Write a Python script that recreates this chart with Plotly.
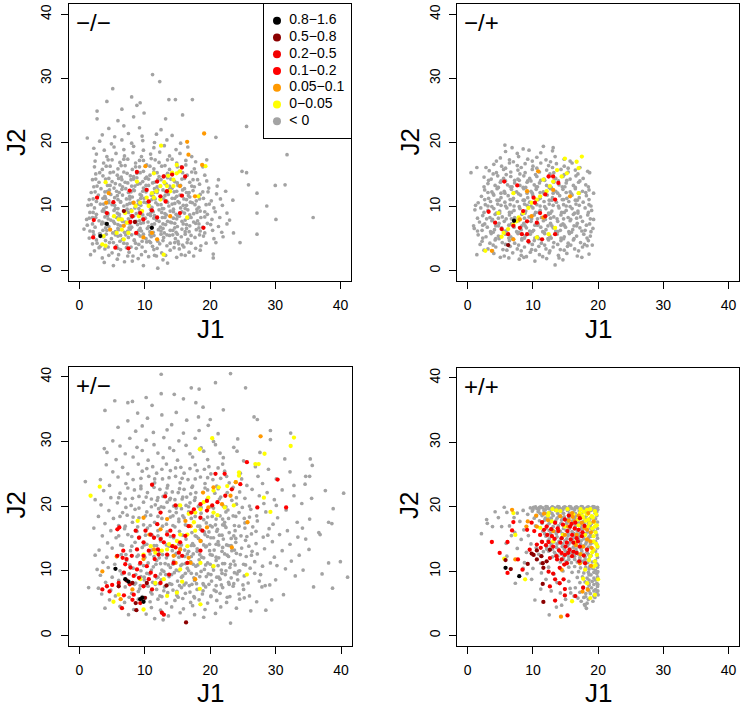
import plotly.graph_objects as go

# ---------------- categories / colours ----------------
CATS = ["< 0", "0\u22120.05", "0.05\u22120.1", "0.1\u22120.2", "0.2\u22120.5", "0.5\u22120.8", "0.8\u22121.6"]
COLORS = ["#A3A3A3", "#FFFF00", "#FF9900", "#FF0000", "#F20000", "#8B0000", "#000000"]
PANEL_LABELS = ["\u2212/\u2212", "\u2212/+", "+/\u2212", "+/+"]
TICKS = [0, 10, 20, 30, 40]

# ---------------- panel "-/-" (J1, J2) ----------------
MM_GRAY = [
 (3.8,1.3),(5.2,0.8),(6.9,1.4),(9.8,0.8),(12.0,0.4),(13.5,1.2),(8.1,1.5),
 (1.7,2.5),(3.5,2.0),(5.8,1.8),(7.4,2.3),(9.0,1.9),(10.6,2.2),(12.8,1.7),(14.9,2.1),(16.2,2.4),(20.5,2.0),(11.5,2.4),
 (2.3,3.1),(3.9,3.4),(5.0,2.8),(6.3,3.3),(7.6,2.9),(8.7,3.5),(10.1,3.0),(11.4,3.3),(12.6,2.8),(13.9,3.2),(15.3,3.4),(16.8,2.9),(18.5,3.2),(20.5,2.6),
 (2.0,4.2),(3.2,3.8),(4.6,4.4),(5.7,3.9),(6.8,4.3),(7.9,3.7),(9.1,4.1),(10.3,4.5),(11.2,3.8),(12.3,4.2),(13.4,3.9),(14.6,4.4),(15.8,4.0),(17.1,4.3),(18.6,3.9),(20.9,4.4),(24.6,4.4),(9.6,4.6),
 (1.5,5.1),(2.6,4.8),(3.7,5.3),(4.9,5.0),(5.9,5.4),(6.6,4.9),(7.5,5.2),(8.4,4.8),(9.3,5.4),(10.2,5.0),(11.0,5.3),(11.9,4.9),(12.9,5.2),(13.8,5.5),(14.7,5.0),(15.6,5.3),(16.6,4.9),(17.7,5.2),(19.0,5.4),(20.6,5.0),(22.0,5.3),
 (0.7,6.5),(2.1,6.1),(3.1,5.8),(4.2,6.3),(5.1,5.9),(6.0,6.4),(6.9,6.0),(7.8,6.5),(8.6,5.8),(9.5,6.2),(10.4,6.6),(11.3,6.0),(12.1,6.4),(13.0,5.9),(13.9,6.3),(14.8,6.0),(15.7,6.5),(16.8,6.1),(17.9,6.4),(19.2,5.9),(20.4,6.3),(21.8,6.0),(23.6,5.9),(27.2,5.7),
 (1.2,7.1),(2.4,6.8),(3.4,7.3),(4.5,6.9),(5.4,7.4),(6.3,7.0),(7.2,7.5),(8.0,6.8),(8.9,7.2),(9.8,7.5),(10.6,6.9),(11.5,7.3),(12.4,6.8),(13.2,7.2),(14.1,7.5),(15.0,6.9),(15.9,7.3),(16.9,7.0),(17.8,7.4),(18.9,6.8),(20.1,7.2),(21.3,6.9),(22.6,7.3),
 (1.1,8.0),(2.0,8.3),(3.0,7.8),(3.9,8.4),(4.8,7.9),(5.7,8.3),(6.6,7.7),(7.5,8.1),(8.3,8.5),(9.2,7.8),(10.1,8.2),(10.9,8.6),(11.8,7.9),(12.7,8.3),(13.5,7.7),(14.4,8.2),(15.3,8.5),(16.2,7.9),(17.1,8.3),(18.1,7.8),(19.2,8.4),(20.3,8.0),(21.5,8.3),(23.0,7.9),
 (1.6,9.1),(2.6,8.8),(3.5,9.3),(4.4,8.9),(5.3,9.4),(6.1,8.8),(7.0,9.2),(7.9,9.5),(8.7,8.9),(9.6,9.3),(10.5,8.8),(11.3,9.2),(12.2,9.5),(13.1,8.9),(13.9,9.3),(14.8,8.8),(15.7,9.2),(16.6,9.5),(17.5,8.9),(18.5,9.3),(19.6,8.8),(20.8,9.2),(22.6,9.0),(27.2,9.0),(30.1,8.0),(35.8,8.3),
 (1.3,10.2),(2.3,9.8),(3.2,10.4),(4.1,9.9),(5.0,10.3),(5.9,9.7),(6.8,10.1),(7.7,10.5),(8.5,9.8),(9.4,10.2),(10.3,10.6),(11.1,9.9),(12.0,10.3),(12.9,9.7),(13.7,10.1),(14.6,10.5),(15.5,9.8),(16.4,10.2),(17.3,10.6),(18.3,9.9),(19.4,10.3),(20.6,9.8),(21.9,10.2),(28.7,10.1),
 (1.5,11.1),(2.6,10.8),(3.6,11.3),(4.5,10.9),(5.4,11.4),(6.3,10.8),(7.2,11.2),(8.1,11.5),(9.0,10.9),(9.9,11.3),(10.7,10.8),(11.6,11.2),(12.5,11.5),(13.3,10.9),(14.2,11.3),(15.1,10.8),(16.0,11.2),(16.9,11.5),(17.9,10.9),(19.0,11.3),(20.2,10.9),(21.6,11.2),(23.5,11.0),
 (1.8,12.2),(2.9,11.8),(3.9,12.3),(4.8,11.9),(5.7,12.4),(6.6,11.8),(7.5,12.2),(8.4,12.5),(9.3,11.9),(10.2,12.3),(11.0,11.8),(11.9,12.2),(12.8,12.6),(13.6,11.9),(14.5,12.3),(15.4,11.8),(16.4,12.2),(17.4,12.5),(18.5,11.9),(19.7,12.3),(21.0,12.0),(22.4,12.4),(27.2,12.1),
 (2.2,13.1),(3.3,12.8),(4.3,13.3),(5.3,12.9),(6.2,13.4),(7.1,12.8),(8.0,13.2),(8.9,13.5),(9.8,12.9),(10.6,13.3),(11.5,12.8),(12.4,13.2),(13.3,13.5),(14.2,12.9),(15.1,13.3),(16.1,12.8),(17.2,13.2),(18.4,13.5),(19.8,12.9),(21.1,13.2),(25.9,13.4),(30.0,13.3),(31.5,13.4),
 (2.0,14.2),(3.0,13.8),(4.0,14.3),(5.0,13.9),(6.0,14.4),(7.0,13.8),(7.9,14.2),(8.8,14.5),(9.7,13.9),(10.6,14.3),(11.5,13.8),(12.5,14.2),(13.5,14.5),(14.6,13.9),(15.7,14.3),(16.9,13.8),(18.1,14.2),(19.5,14.0),(21.3,14.2),
 (2.5,15.1),(3.6,14.8),(4.7,15.3),(5.8,14.9),(6.8,15.4),(7.8,14.8),(8.8,15.2),(9.8,15.5),(10.8,14.9),(11.9,15.3),(13.0,14.8),(14.1,15.2),(15.3,15.5),(16.5,14.9),(17.8,15.3),(19.2,14.9),(24.9,15.5),(25.6,15.3),
 (2.3,16.2),(3.5,15.8),(4.7,16.3),(5.9,15.9),(7.0,16.4),(8.1,15.8),(9.2,16.2),(10.3,16.5),(11.4,15.9),(12.6,16.3),(13.8,15.8),(15.0,16.2),(16.3,16.5),(17.6,15.9),(18.9,16.2),
 (2.4,17.1),(3.7,16.8),(5.0,17.3),(6.2,16.9),(7.4,17.4),(8.6,16.8),(9.8,17.2),(11.0,17.5),(12.2,16.9),(13.5,17.3),(14.9,16.8),(16.3,17.2),(17.8,17.0),(19.5,17.3),
 (2.6,18.2),(4.2,17.8),(5.6,18.3),(6.9,17.9),(8.2,18.4),(9.5,17.8),(10.9,18.2),(12.3,18.5),(13.8,17.9),(15.4,18.3),(17.2,17.8),(31.8,18.1),
 (2.2,19.1),(3.8,18.8),(5.3,19.3),(6.8,18.9),(8.3,19.4),(9.8,18.8),(11.4,19.2),(13.0,19.5),(14.8,18.9),(16.6,19.3),
 (1.2,20.7),(3.1,20.2),(4.9,19.8),(6.5,20.4),(8.0,19.9),(9.7,20.3),(11.5,20.0),(13.4,20.4),(15.5,19.9),(20.9,20.8),
 (3.5,21.2),(5.4,20.9),(7.5,21.4),(9.6,21.0),(11.8,21.3),(14.2,21.1),(25.6,22.5),
 (4.5,22.2),(6.8,22.6),(9.2,22.3),(12.5,22.0),(5.9,23.4),(8.3,24.0),(13.2,23.7),(2.7,23.7),(2.7,24.9),(6.5,25.2),(9.9,24.6),(15.8,24.3),
 (5.1,28.4),(8.0,27.1),(4.2,26.4),(13.7,26.7),(14.7,26.7),(17.3,26.7),(9.3,26.2),(11.2,30.6),(12.3,29.5),(8.8,25.8),
 (4.0,4.7),(6.2,4.6),(8.4,4.7),(10.7,4.6),(12.8,4.7),(15.1,4.6),
 (3.2,5.7),(5.5,5.6),(7.1,5.6),(9.0,5.7),(10.8,5.6),(12.5,5.7),(14.3,5.6),(16.2,5.7),
 (4.0,6.7),(5.9,6.6),(7.6,6.7),(9.3,6.6),(11.0,6.7),(12.8,6.6),(14.6,6.7),(16.4,6.6),(18.3,6.7),
 (3.5,7.6),(5.2,7.7),(7.0,7.6),(8.7,7.7),(10.5,7.6),(12.2,7.7),(13.9,7.6),(15.7,7.7),(17.5,7.6),
 (4.3,8.6),(6.1,8.7),(7.9,8.6),(9.7,8.7),(11.5,8.6),(13.3,8.7),(15.0,8.6),(16.9,8.7),
 (3.7,9.6),(5.5,9.7),(7.3,9.6),(9.1,9.7),(10.9,9.6),(12.7,9.7),(14.4,9.6),(16.2,9.7),(18.0,9.6),
 (4.5,10.6),(6.3,10.7),(8.1,10.6),(9.9,10.7),(11.7,10.6),(13.5,10.7),(15.3,10.6),(17.0,10.7),
 (3.9,11.6),(5.8,11.7),(7.7,11.6),(9.5,11.7),(11.3,11.6),(13.1,11.7),(14.9,11.6),(16.7,11.7),
 (4.6,12.6),(6.5,12.7),(8.3,12.6),(10.1,12.7),(12.0,12.6),(13.8,12.7),(15.8,12.6),
 (5.5,13.6),(7.4,13.7),(9.3,13.6),(11.2,13.7),(13.1,13.6),(15.0,13.7),
 (6.4,14.6),(8.3,14.7),(10.3,14.6),(12.2,14.7),
 (4.5,2.4),(6.0,2.5),(8.2,2.3),(9.5,2.5),(11.8,2.3),(13.2,2.4),(15.6,2.5),(17.5,2.3),
 (3.0,3.6),(4.4,3.7),(5.9,3.5),(7.2,3.6),(9.6,3.7),(11.9,3.5),(14.5,3.6),(16.0,3.7),(17.8,3.5),
 (2.7,4.3),(5.2,4.4),(7.3,4.2),(8.6,4.3),(10.9,4.4),(12.0,4.6),(13.9,4.3),(15.2,4.2),(16.5,4.4),(19.4,4.3),
 (2.2,5.6),(4.1,5.7),(6.3,5.5),(8.0,5.6),(9.8,5.7),(11.4,5.5),(13.4,5.6),(15.0,5.7),(17.1,5.5),(18.4,5.6),
 (1.6,6.2),(3.6,6.3),(5.5,6.1),(7.4,6.2),(9.1,6.3),(10.8,6.1),(12.5,6.2),(14.3,6.3),(16.2,6.1),(18.5,6.2),
 (2.0,7.3),(3.9,7.4),(5.9,7.2),(7.7,7.3),(9.4,7.4),(11.1,7.2),(12.8,7.3),(14.6,7.4),(16.4,7.2),(18.3,7.3),(19.6,7.4),
 (1.5,8.2),(2.5,8.3),(4.4,8.1),(6.2,8.2),(8.0,8.3),(9.7,8.1),(11.4,8.2),(13.1,8.3),(14.9,8.1),(16.6,8.2),(18.6,8.3),
 (2.1,9.1),(3.9,9.2),(5.8,9.0),(7.5,9.1),(9.2,9.2),(10.9,9.0),(12.6,9.1),(14.4,9.2),(16.1,9.0),(18.0,9.1),(19.2,9.2),
 (1.8,10.3),(3.7,10.4),(5.4,10.2),(7.3,10.3),(9.0,10.4),(10.7,10.2),(12.5,10.3),(14.2,10.4),(15.9,10.2),(17.7,10.3),(19.9,10.4),
 (2.1,11.2),(4.0,11.3),(5.9,11.1),(7.7,11.2),(9.4,11.3),(11.1,11.1),(12.9,11.2),(14.6,11.3),(16.4,11.1),(18.4,11.2),
 (2.4,12.3),(4.3,12.4),(6.1,12.2),(7.9,12.3),(9.7,12.4),(11.4,12.2),(13.2,12.3),(14.9,12.4),(16.8,12.2),(18.9,12.3),
 (2.7,13.2),(4.7,13.3),(6.6,13.1),(8.5,13.2),(10.2,13.3),(11.9,13.1),(13.8,13.2),(15.5,13.3),(17.6,13.1),
 (2.5,14.3),(4.5,14.4),(6.5,14.2),(8.3,14.3),(10.1,14.4),(12.0,14.2),(14.0,14.3),(16.1,14.4),(17.4,14.2),
 (3.1,15.3),(5.2,15.4),(7.3,15.2),(9.3,15.3),(11.4,15.4),(13.5,15.2),(15.8,15.3),(17.2,15.4),
 (4.1,16.3),(6.4,16.4),(8.6,16.2),(10.8,16.3),(13.1,16.4),(15.6,16.2),
 (4.4,17.3),(6.8,17.4),(9.2,17.2),(11.6,17.3),(14.2,17.4),
]
MM_YEL = [
 (12.5,19.5),(19.3,16.3),(18.2,11.6),(16.5,8.3),(12.9,2.5),(4.0,13.8),(3.7,5.4),(3.5,4.1),(4.0,3.9),
 (5.3,8.5),(6.0,8.0),(6.5,6.4),(7.3,7.5),(8.0,9.3),(8.6,10.1),(9.3,10.6),(10.3,11.4),(11.1,12.1),(11.8,12.4),
 (12.4,13.2),(13.0,13.8),(13.6,14.8),(14.2,15.3),(14.9,15.2),(14.4,14.2),(13.4,13.2),(11.4,11.4),(9.6,9.3),
 (7.5,5.9),(6.8,4.9),(5.7,5.9),(8.8,13.9),(11.4,15.2),(14.9,16.5),(6.5,8.0),(7.0,9.0),(9.1,8.5),(10.6,10.1),
 (12.4,11.1),(13.9,12.4),(14.4,13.2),(15.4,15.5),
]
MM_ORA = [
 (19.1,21.4),(16.5,20.1),(16.7,18.1),(18.8,16.5),(10.1,16.3),(4.5,12.1),(4.1,10.6),(4.7,6.4),(9.8,5.2),
 (11.9,4.9),(8.3,10.6),(15.4,13.2),(6.8,7.0),(13.9,8.5),(11.1,5.9),(17.7,11.6),
]
MM_R1 = [
 (7.7,12.5),(10.6,10.8),(12.4,11.6),(13.2,10.8),(9.3,9.0),(9.8,8.0),(7.8,7.6),(8.7,5.9),
 (5.5,3.6),(7.5,3.5),(2.2,7.9),(2.1,5.2),(2.7,11.4),(15.4,9.0),
]
MM_R2 = [
 (8.8,15.4),(12.9,14.7),(15.7,16.1),(16.2,14.7),(15.7,11.7),(19.0,6.7),(4.2,9.0),(11.9,8.3),
 (11.1,9.4),(8.1,8.5),(5.2,10.7),(13.4,12.4),(11.9,13.9),(14.2,15.0),(10.3,12.6),
]
MM_DR = [(6.8,9.3),(8.5,7.6)]
MM_BK = [(3.2,5.4),(4.2,7.3),(11.1,6.7)]

# ---------------- panel "-/+" ----------------
MP_GRAY = [
 (7.9,1.8),(10.3,1.5),(12.1,1.9),(13.4,0.9),(9.0,2.2),(14.6,1.7),
 (1.4,2.5),(4.0,2.7),(5.6,2.3),(6.9,2.8),(8.2,2.4),(9.6,2.9),(11.0,2.5),(12.5,2.8),(13.9,2.4),(15.2,2.7),(16.8,2.3),(18.6,2.6),
 (3.1,3.4),(4.3,3.7),(5.4,3.3),(6.5,3.8),(7.6,3.4),(8.7,3.7),(9.8,3.3),(10.9,3.8),(12.0,3.4),(13.1,3.7),(14.2,3.3),(15.3,3.8),(16.4,3.4),(17.6,3.7),(18.3,3.9),
 (2.2,4.6),(3.4,4.3),(4.2,4.8),(5.3,4.4),(6.4,4.7),(7.2,4.3),(8.3,4.8),(9.4,4.4),(10.2,4.7),(11.3,4.3),(12.4,4.8),(13.2,4.4),(14.3,4.7),(15.4,4.3),(16.2,4.8),(17.3,4.4),(18.5,4.7),
 (1.6,5.6),(2.8,5.3),(3.6,5.8),(4.7,5.4),(5.8,5.7),(6.6,5.3),(7.7,5.8),(8.8,5.4),(9.6,5.7),(10.7,5.3),(11.8,5.8),(12.6,5.4),(13.7,5.7),(14.8,5.3),(15.6,5.8),(16.7,5.4),(17.8,5.7),(18.8,5.4),
 (1.0,6.6),(2.2,6.3),(3.0,6.8),(4.1,6.4),(5.2,6.7),(6.0,6.3),(7.1,6.8),(8.2,6.4),(9.0,6.7),(10.1,6.3),(11.2,6.8),(12.0,6.4),(13.1,6.7),(14.2,6.3),(15.0,6.8),(16.1,6.4),(17.2,6.7),(18.0,6.3),(19.2,6.6),
 (0.9,7.0),(1.8,7.6),(2.6,7.3),(3.7,7.8),(4.8,7.4),(5.6,7.7),(6.7,7.3),(7.8,7.8),(8.6,7.4),(9.7,7.7),(10.8,7.3),(11.6,7.8),(12.7,7.4),(13.8,7.7),(14.6,7.3),(15.7,7.8),(16.8,7.4),(17.6,7.7),(18.7,7.3),
 (2.3,8.6),(3.4,8.3),(4.2,8.8),(5.3,8.4),(6.4,8.7),(7.2,8.3),(8.3,8.8),(9.4,8.4),(10.2,8.7),(11.3,8.3),(12.4,8.8),(13.2,8.4),(14.3,8.7),(15.4,8.3),(16.2,8.8),(17.3,8.4),(18.4,8.7),(19.3,8.0),
 (1.1,9.5),(2.0,9.8),(3.1,9.4),(4.0,9.7),(4.9,9.3),(6.0,9.8),(7.1,9.4),(8.0,9.7),(8.9,9.3),(10.0,9.8),(11.1,9.4),(12.0,9.7),(12.9,9.3),(14.0,9.8),(15.1,9.4),(16.0,9.7),(16.9,9.3),(18.0,9.8),(19.0,9.4),
 (1.6,10.6),(2.7,10.3),(3.5,10.8),(4.6,10.4),(5.7,10.7),(6.5,10.3),(7.6,10.8),(8.7,10.4),(9.5,10.7),(10.6,10.3),(11.7,10.8),(12.5,10.4),(13.6,10.7),(14.7,10.3),(15.5,10.8),(16.6,10.4),(17.7,10.7),(18.6,10.3),
 (2.1,11.6),(3.2,11.3),(4.0,11.8),(5.1,11.4),(6.2,11.7),(7.0,11.3),(8.1,11.8),(9.2,11.4),(10.0,11.7),(11.1,11.3),(12.2,11.8),(13.0,11.4),(14.1,11.7),(15.2,11.3),(16.0,11.8),(17.1,11.4),(18.2,11.7),(19.3,12.1),
 (2.6,12.6),(3.7,12.3),(4.5,12.8),(5.6,12.4),(6.7,12.7),(7.5,12.3),(8.6,12.8),(9.7,12.4),(10.5,12.7),(11.6,12.3),(12.7,12.8),(13.5,12.4),(14.6,12.7),(15.7,12.3),(16.5,12.8),(17.6,12.4),(18.6,12.6),
 (3.1,13.6),(4.2,13.3),(5.0,13.8),(6.1,13.4),(7.2,13.7),(8.0,13.3),(9.1,13.8),(10.2,13.4),(11.0,13.7),(12.1,13.3),(13.2,13.8),(14.0,13.4),(15.1,13.7),(16.2,13.3),(17.0,13.8),(18.1,13.4),
 (2.5,14.6),(3.6,14.3),(4.6,14.8),(5.5,14.4),(6.6,14.7),(7.7,14.3),(8.6,14.8),(9.5,14.4),(10.6,14.7),(11.7,14.3),(12.6,14.8),(13.5,14.4),(14.6,14.7),(15.7,14.3),(16.6,14.8),(17.7,14.4),(18.7,15.3),
 (0.5,15.3),(3.3,15.6),(4.4,15.3),(5.5,15.8),(6.6,15.4),(7.7,15.7),(8.8,15.3),(9.9,15.8),(11.0,15.4),(12.1,15.7),(13.2,15.3),(14.3,15.8),(15.4,15.4),(16.5,15.7),(18.4,15.5),
 (1.4,16.1),(4.0,16.6),(5.2,16.3),(6.4,16.8),(7.6,16.4),(8.8,16.7),(10.0,16.3),(11.2,16.8),(12.4,16.4),(13.6,16.7),(14.8,16.3),(16.0,16.8),
 (5.0,17.6),(6.4,17.3),(7.8,17.8),(9.2,17.4),(10.6,17.7),(12.0,17.3),(13.4,17.8),(14.8,17.4),
 (5.8,18.6),(7.6,18.3),(9.4,18.8),(11.2,18.4),(13.0,18.7),(8.5,19.0),
 (5.7,19.6),(11.6,19.4),(13.1,19.2),(6.8,19.2),
 (4.8,5.0),(6.9,5.0),(8.7,5.1),(10.9,5.0),(12.8,5.1),(14.7,5.0),
 (3.9,6.0),(5.7,6.1),(7.8,6.0),(9.9,6.1),(11.7,6.0),(13.8,6.1),(15.9,6.0),
 (4.7,7.0),(6.9,7.1),(8.8,7.0),(10.7,7.1),(12.9,7.0),(14.8,7.1),(16.7,7.0),
 (3.8,8.0),(5.9,8.1),(7.7,8.0),(9.8,8.1),(11.9,8.0),(13.7,8.1),(15.8,8.0),
 (4.9,9.0),(6.7,9.1),(8.8,9.0),(10.9,9.1),(12.7,9.0),(14.8,9.1),(16.9,9.0),
 (3.7,10.0),(5.8,10.1),(7.9,10.0),(9.7,10.1),(11.8,10.0),(13.9,10.1),(15.7,10.0),
 (4.8,11.0),(6.9,11.1),(8.7,11.0),(10.8,11.1),(12.9,11.0),(14.7,11.1),(16.8,11.0),
 (3.9,12.0),(5.7,12.1),(7.8,12.0),(9.9,12.1),(11.7,12.0),(13.8,12.1),(15.9,12.0),
 (4.7,13.0),(6.8,13.1),(8.9,13.0),(10.7,13.1),(12.8,13.0),(14.9,13.1),
 (5.8,14.0),(7.9,14.1),(9.7,14.0),(11.8,14.1),(13.9,14.0),
 (5.0,2.1),(6.3,2.0),(8.6,2.1),(11.5,2.2),(14.0,2.0),(17.5,2.1),
 (2.5,3.2),(3.8,3.1),(6.0,3.2),(8.2,3.1),(10.4,3.2),(12.6,3.1),(14.8,3.2),(17.0,3.1),
 (1.9,4.1),(3.9,4.0),(5.8,4.1),(7.8,4.0),(9.9,4.1),(11.8,4.0),(13.8,4.1),(15.8,4.0),(17.9,4.1),(19.1,4.0),
 (2.3,5.1),(4.3,5.0),(6.3,5.1),(8.3,5.0),(10.3,5.1),(12.3,5.0),(14.3,5.1),(16.3,5.0),(18.3,5.1),
 (1.5,6.2),(3.5,6.1),(5.5,6.2),(7.5,6.1),(9.5,6.2),(11.5,6.1),(13.5,6.2),(15.5,6.1),(17.5,6.2),(18.9,6.1),
 (2.3,7.1),(4.3,7.0),(6.3,7.1),(8.3,7.0),(10.3,7.1),(12.3,7.0),(14.3,7.1),(16.3,7.0),(18.2,7.1),
 (1.5,8.2),(2.9,8.1),(4.7,8.2),(6.7,8.1),(8.7,8.2),(10.7,8.1),(12.7,8.2),(14.7,8.1),(16.7,8.2),(18.8,8.1),
 (2.5,9.1),(4.4,9.0),(6.4,9.1),(8.4,9.0),(10.4,9.1),(12.4,9.0),(14.4,9.1),(16.4,9.0),(18.5,9.1),
 (1.2,10.2),(3.1,10.1),(5.1,10.2),(7.1,10.1),(9.1,10.2),(11.1,10.1),(13.1,10.2),(15.1,10.1),(17.1,10.2),(18.9,10.1),
 (2.6,11.1),(4.5,11.0),(6.5,11.1),(8.5,11.0),(10.5,11.1),(12.5,11.0),(14.5,11.1),(16.5,11.0),(18.6,11.1),
 (3.1,12.2),(5.1,12.1),(7.1,12.2),(9.1,12.1),(11.1,12.2),(13.1,12.1),(15.1,12.2),(17.1,12.1),(18.1,12.2),
 (2.5,13.1),(4.6,13.0),(6.5,13.1),(8.5,13.0),(10.5,13.1),(12.5,13.0),(14.5,13.1),(16.5,13.0),(18.5,13.1),
 (3.2,14.1),(5.1,14.0),(7.2,14.1),(9.2,14.0),(11.2,14.1),(13.2,14.0),(15.2,14.1),(17.2,14.0),
 (3.9,15.1),(5.9,15.0),(8.0,15.1),(10.4,15.0),(12.6,15.1),(14.8,15.0),(16.9,15.1),
 (2.8,16.1),(5.8,16.0),(8.2,16.1),(10.6,16.0),(13.0,16.1),(15.4,16.0),(17.2,16.1),
 (4.4,17.1),(7.0,17.0),(9.9,17.1),(12.7,17.0),(15.7,17.1),
]
MP_YEL = [
 (17.5,17.8),(16.7,17.0),(17.0,16.0),(14.9,17.5),(15.2,15.2),(14.4,14.7),(13.1,13.9),(12.6,13.2),(12.1,12.4),
 (11.1,11.6),(10.6,11.1),(9.8,10.6),(9.3,9.8),(8.5,9.0),(7.8,8.3),(7.5,7.7),(7.0,7.2),(6.2,6.5),(5.5,5.9),
 (5.2,5.3),(2.7,3.1),(7.0,12.1),(10.6,5.2),(12.4,5.7),(13.4,6.7),(4.7,9.0),(17.0,12.1),(13.7,15.7),(11.6,14.2),
]
MP_ORA = [(3.7,3.1),(10.8,15.5),(8.0,8.0),(9.8,8.5),(13.1,12.6),(7.0,4.9),(15.7,11.6),(9.1,12.4),(11.6,8.3)]
MP_R1 = [
 (3.2,9.2),(7.6,13.3),(5.6,13.9),(12.4,14.7),(13.1,14.7),(13.9,13.7),(10.1,11.4),(10.3,10.6),(8.5,9.3),
 (11.9,11.9),(13.4,11.1),(11.1,9.0),
]
MP_R2 = [
 (11.9,8.5),(10.6,7.5),(9.1,7.7),(8.0,6.7),(7.0,7.0),(8.3,5.7),(9.1,5.7),(6.2,5.7),(5.2,6.5),(9.3,4.6),
 (11.4,4.9),(13.4,5.7),(4.2,7.5),
]
MP_DR = [(6.2,4.0)]
MP_BK = [(7.1,7.8)]

# ---------------- panel "+/-" ----------------
PM_GRAY = [
 (12.8,2.4),(23.1,1.9),(11.5,2.6),(19.0,2.8),(1.4,7.4),
 (7.5,3.2),(10.2,3.3),(13.6,3.0),(15.4,3.5),(17.6,3.2),(20.8,3.4),(28.5,3.9),
 (3.9,4.2),(6.2,4.5),(8.3,4.0),(11.0,4.3),(12.4,3.9),(14.1,4.4),(15.9,4.1),(17.3,4.6),(19.2,4.0),(21.6,4.4),(24.0,4.2),(26.2,3.8),
 (4.6,5.5),(6.9,5.1),(9.0,5.6),(10.8,5.2),(12.0,5.6),(13.3,5.0),(14.6,5.4),(15.8,5.7),(17.0,5.1),(18.3,5.5),(19.6,5.0),(21.0,5.4),(22.5,5.1),(24.5,5.6),(27.1,5.2),(29.4,5.5),
 (3.4,6.4),(5.5,6.1),(8.0,6.5),(9.6,6.0),(11.1,6.4),(12.3,6.1),(13.5,6.6),(14.9,6.2),(16.2,6.5),(17.5,6.0),(18.8,6.4),(20.1,6.1),(21.5,6.5),(23.0,6.0),(24.4,6.4),(26.0,6.1),(31.2,6.3),
 (2.9,7.3),(4.8,7.0),(7.0,7.5),(9.2,7.2),(10.5,7.6),(11.8,7.1),(13.0,7.5),(14.3,7.0),(15.6,7.4),(16.8,7.7),(18.0,7.1),(19.3,7.5),(20.6,7.0),(21.9,7.4),(23.5,7.6),(25.1,7.1),(27.9,7.5),(29.1,7.8),(35.8,7.5),(38.7,7.3),
 (4.0,8.2),(6.0,8.5),(8.6,8.1),(9.9,8.6),(11.2,8.2),(12.5,8.6),(13.8,8.0),(15.0,8.4),(16.3,8.1),(17.6,8.5),(18.9,8.0),(20.2,8.4),(21.5,8.7),(22.8,8.2),(24.2,8.6),(25.8,8.1),(27.5,8.4),(30.0,8.6),
 (3.2,9.3),(5.0,9.0),(7.6,9.5),(9.4,9.1),(10.7,9.5),(12.0,9.0),(13.2,9.4),(14.5,9.7),(15.8,9.2),(17.1,9.6),(18.4,9.1),(19.7,9.5),(21.0,9.0),(22.3,9.4),(23.7,9.7),(25.2,9.2),(26.8,9.6),(33.0,9.2),(37.1,9.5),(41.0,9.0),
 (2.7,10.2),(4.4,10.5),(6.2,10.0),(8.2,10.4),(11.3,10.6),(12.6,10.1),(13.9,10.5),(15.2,10.0),(16.5,10.4),(17.8,10.7),(19.1,10.2),(20.4,10.6),(21.7,10.1),(23.0,10.5),(24.5,10.0),(26.1,10.4),(28.0,10.7),(31.5,10.3),(34.2,10.1),
 (3.6,11.3),(5.4,11.0),(7.2,11.6),(10.5,11.2),(11.8,11.6),(13.1,11.1),(14.4,11.5),(15.7,11.0),(17.0,11.4),(18.3,11.7),(19.6,11.2),(20.9,11.6),(22.2,11.1),(23.6,11.5),(25.1,11.0),(26.8,11.4),(29.2,11.2),(32.4,11.5),(38.1,11.2),(39.9,11.4),
 (2.4,12.4),(4.2,12.1),(6.4,12.5),(8.8,12.2),(12.2,12.0),(13.5,12.4),(14.8,12.7),(16.1,12.2),(17.4,12.6),(18.7,12.1),(20.0,12.5),(21.3,12.0),(22.6,12.4),(24.0,12.7),(25.5,12.2),(27.2,12.6),(29.8,12.1),(33.6,12.4),
 (3.0,13.2),(5.0,13.5),(7.8,13.1),(9.6,13.6),(11.0,13.2),(15.4,13.5),(16.7,13.0),(18.0,13.4),(19.3,13.7),(20.6,13.2),(21.9,13.6),(23.3,13.1),(24.8,13.5),(26.4,13.0),(28.3,13.4),(31.0,13.1),(35.1,13.3),
 (4.3,14.3),(6.3,14.0),(8.5,14.4),(10.3,14.1),(12.4,14.6),(17.3,14.2),(18.6,14.6),(19.9,14.1),(21.2,14.5),(22.5,14.0),(23.9,14.4),(25.4,14.7),(27.0,14.2),(29.5,14.5),(32.2,14.1),(34.6,14.9),
 (3.5,15.4),(5.6,15.1),(7.4,15.6),(9.2,15.2),(11.1,15.5),(17.9,15.3),(19.2,15.6),(20.5,15.1),(21.8,15.5),(23.2,15.0),(24.7,15.4),(26.3,15.7),(28.1,15.2),(30.6,15.6),(33.4,15.2),(36.6,15.9),(36.8,15.6),
 (2.2,16.6),(4.8,16.2),(6.9,16.5),(8.8,16.1),(10.4,16.6),(12.0,16.2),(18.5,16.4),(19.8,16.0),(21.1,16.4),(22.4,16.7),(23.8,16.2),(25.3,16.6),(27.0,16.1),(29.0,16.5),(31.8,16.2),(34.1,16.6),
 (3.9,17.3),(6.0,17.0),(8.1,17.5),(9.8,17.1),(11.5,17.5),(13.3,17.2),(15.2,17.6),(19.4,17.4),(20.8,17.1),(22.2,17.5),(23.7,17.0),(25.3,17.4),(27.2,17.7),(29.6,17.2),(33.3,17.5),(38.1,17.5),(38.6,17.3),
 (2.9,18.4),(5.2,18.1),(7.3,18.6),(9.1,18.2),(10.9,18.6),(12.6,18.1),(14.3,18.5),(16.0,18.2),(20.3,18.4),(21.9,18.0),(23.5,18.5),(25.2,18.1),(27.1,18.5),(30.3,18.2),(35.2,18.0),
 (4.5,19.3),(6.6,19.0),(8.5,19.5),(10.3,19.1),(12.1,19.6),(13.8,19.2),(15.6,19.6),(17.4,19.1),(22.7,19.4),(24.4,19.0),(26.2,19.5),(28.5,19.1),(31.6,19.4),(38.8,19.6),
 (3.3,20.2),(5.8,20.5),(7.9,20.1),(9.8,20.6),(11.6,20.2),(13.4,20.6),(15.2,20.1),(16.9,20.5),(18.2,19.9),(24.0,20.3),(26.0,20.0),(28.2,20.4),(30.1,20.1),(34.0,20.4),
 (2.4,21.0),(4.8,21.3),(7.0,21.1),(9.1,21.5),(11.0,21.1),(12.8,21.5),(14.6,21.0),(16.4,21.4),(25.3,21.2),(27.5,21.6),(29.8,21.0),(32.8,21.6),(35.5,21.2),(40.4,22.0),
 (3.7,22.4),(6.2,22.0),(8.4,22.5),(10.4,22.1),(12.3,22.6),(14.2,22.2),(16.0,22.6),(17.8,22.1),(19.6,22.5),(24.5,22.2),(26.4,22.6),(28.7,22.1),(31.0,22.5),(37.6,22.4),
 (0.9,23.8),(4.6,23.2),(7.1,23.5),(9.4,23.1),(11.5,23.6),(13.5,23.2),(15.4,23.6),(17.3,23.1),(19.2,23.5),(21.0,23.1),(22.9,23.6),(25.6,23.2),(28.0,23.5),(32.8,23.2),(34.5,23.4),
 (3.2,24.1),(5.9,24.5),(8.2,24.1),(10.6,24.6),(12.7,24.2),(14.7,24.6),(16.6,24.1),(18.5,24.5),(20.4,24.1),(22.5,24.6),(24.8,24.2),(27.3,24.6),(30.1,24.2),(34.6,24.6),(35.2,24.6),
 (5.1,25.3),(7.4,25.0),(9.6,25.4),(11.8,25.1),(13.9,25.5),(16.0,25.1),(18.0,25.5),(20.1,25.0),(22.2,25.4),(24.6,25.1),(28.9,25.7),(32.2,25.3),
 (4.1,26.4),(6.6,26.0),(9.0,26.5),(11.2,26.1),(13.3,26.5),(15.5,26.0),(17.7,26.4),(19.8,26.1),(21.9,26.5),(26.9,26.1),(35.6,26.3),
 (5.6,27.2),(8.2,27.6),(10.5,27.1),(12.8,27.5),(15.0,27.1),(17.3,27.6),(19.6,27.2),(22.0,27.5),(25.1,27.0),(31.4,27.3),(35.3,27.3),
 (4.2,28.3),(7.0,28.1),(9.6,28.6),(12.0,28.2),(14.4,28.6),(16.9,28.1),(19.0,28.5),(21.5,28.2),(24.1,28.5),(27.6,28.3),
 (3.8,28.9),(6.2,29.3),(8.8,29.1),(11.4,29.5),(13.8,29.0),(16.3,29.4),(18.6,29.0),(20.8,29.5),(23.6,29.1),
 (5.1,30.1),(7.7,30.5),(10.2,30.2),(12.9,30.6),(15.2,30.1),(17.7,30.5),(20.5,30.0),(24.2,30.4),(29.2,30.3),
 (5.9,32.2),(8.6,31.6),(11.3,31.4),(13.4,31.8),(15.9,31.3),(18.3,31.7),(21.2,31.2),(29.2,31.7),(32.3,31.3),(9.6,32.4),(14.1,32.6),(19.7,32.5),
 (3.9,34.8),(7.4,33.2),(10.4,33.6),(12.6,34.1),(16.4,33.3),(18.2,33.8),(20.0,33.4),(22.0,34.9),(26.7,33.8),(27.2,33.4),(8.9,34.4),(14.8,34.5),
 (5.4,36.3),(8.1,36.2),(7.4,36.0),(12.5,37.4),(14.5,37.3),(15.9,36.6),(11.1,35.6),(18.9,35.3),(10.2,36.8),(17.8,36.0),
 (12.5,40.4),(23.1,40.5),(20.8,39.1),(25.4,38.3),(17.1,38.3),(18.3,38.1),
 (9.0,6.8),(10.9,6.7),(12.9,6.9),(14.9,6.8),(16.9,6.7),(18.9,6.9),(20.9,6.8),
 (8.4,7.9),(10.3,7.8),(12.2,8.0),(14.1,7.9),(16.0,7.8),(17.9,8.0),(19.8,7.9),(21.7,7.8),(23.6,8.0),
 (9.9,9.0),(11.8,8.9),(13.7,9.1),(15.6,9.0),(17.5,8.9),(19.4,9.1),(21.3,9.0),(23.2,8.9),
 (9.4,10.0),(11.0,10.1),(12.9,9.9),(14.8,10.1),(16.7,10.0),(18.6,9.9),(20.5,10.1),(22.4,10.0),(24.3,9.9),
 (9.2,11.0),(12.4,11.1),(14.3,11.0),(16.2,11.1),(18.1,10.9),(20.0,11.0),(21.9,11.1),(23.8,10.9),
 (10.0,12.1),(11.4,12.2),(13.3,12.0),(15.2,12.1),(17.1,12.2),(19.0,12.0),(20.9,12.1),(22.8,12.2),
 (12.3,13.0),(14.2,13.1),(16.1,13.2),(18.0,13.0),(19.9,13.1),(21.8,13.0),(23.7,13.2),
 (11.4,13.9),(13.3,14.0),(15.2,14.1),(17.1,13.9),(19.0,14.0),(20.9,14.1),(22.8,13.9),
 (12.5,15.0),(14.4,15.1),(16.3,14.9),(18.2,15.0),(20.1,15.1),(22.0,14.9),(23.9,15.0),
 (13.4,16.0),(15.3,16.1),(17.2,15.9),(19.1,16.0),(21.0,16.1),(22.9,15.9),
 (14.3,17.0),(16.2,17.1),(18.1,16.9),(20.0,17.0),(21.9,17.1),
 (15.2,18.0),(17.1,18.1),(19.0,17.9),(20.9,18.0),(22.8,18.1),
 (14.8,19.0),(16.7,19.1),(18.6,18.9),(20.5,19.0),(22.4,19.1),
 (12.5,19.9),(14.4,20.0),(16.3,20.1),(18.2,20.0),(20.1,19.9),(22.0,20.0),
 (11.9,20.9),(13.8,21.0),(15.7,21.1),(17.6,20.9),(19.5,21.0),(21.4,21.1),(23.3,20.9),
 (13.2,22.0),(15.1,22.1),(17.0,21.9),(20.7,22.0),(22.6,22.1),
 (7.6,5.9),(10.1,5.8),(12.6,6.0),(15.1,5.9),(17.6,5.8),(20.1,6.0),(22.6,5.9),(25.2,5.8),
 (6.0,7.8),(9.3,7.7),(11.6,7.9),(13.4,7.8),(15.3,7.7),(17.2,7.9),(19.0,7.8),(20.9,7.7),(22.9,7.9),(25.0,7.8),(28.4,7.7),
 (6.5,9.5),(8.6,9.4),(10.3,9.6),(12.4,9.5),(14.1,9.4),(16.2,9.6),(17.9,9.5),(20.1,9.4),(21.8,9.6),(24.1,9.5),(27.7,9.4),
 (7.7,10.9),(9.8,10.8),(11.7,11.0),(13.6,10.9),(15.5,10.8),(17.4,11.0),(19.3,10.9),(21.2,10.8),(23.1,11.0),(25.4,10.9),(30.2,10.8),
 (7.1,12.5),(9.0,12.4),(10.8,12.6),(12.7,12.5),(14.6,12.4),(16.5,12.6),(18.4,12.5),(20.3,12.4),(22.2,12.6),(24.6,12.5),(26.3,12.4),
 (6.6,13.9),(8.0,13.8),(9.9,14.0),(11.8,13.9),(13.7,13.8),(15.6,14.0),(17.5,13.9),(19.4,13.8),(21.3,14.0),(23.2,13.9),(25.9,13.8),
 (6.0,15.4),(8.0,15.3),(10.1,15.5),(12.0,15.4),(13.9,15.3),(15.8,15.5),(17.7,15.4),(19.6,15.3),(21.4,15.5),(23.6,15.4),(25.6,15.3),(28.8,15.5),
 (7.0,16.9),(8.9,16.8),(10.8,17.0),(12.7,16.9),(14.6,16.8),(16.5,17.0),(18.4,16.9),(20.3,16.8),(22.2,17.0),(24.4,16.9),(26.5,16.8),
 (6.2,18.4),(8.2,18.3),(10.1,18.5),(12.0,18.4),(13.9,18.3),(15.8,18.5),(17.7,18.4),(19.6,18.3),(21.5,18.5),(23.9,18.4),(26.0,18.3),
 (7.1,19.8),(9.1,19.7),(11.0,19.9),(12.9,19.8),(14.8,19.7),(16.7,19.9),(18.6,19.8),(20.5,19.7),(22.4,19.9),(24.9,19.8),
 (6.0,21.3),(8.1,21.2),(10.2,21.4),(12.0,21.3),(13.9,21.2),(15.8,21.4),(17.7,21.3),(19.6,21.2),(21.6,21.4),(24.0,21.3),
 (7.4,22.8),(9.4,22.7),(11.4,22.9),(13.4,22.8),(15.3,22.7),(17.2,22.9),(19.2,22.8),(21.2,22.7),(23.5,22.9),
 (9.4,24.3),(11.5,24.2),(13.7,24.4),(15.7,24.3),(17.7,24.2),(19.6,24.4),(21.6,24.3),
 (10.3,25.8),(12.6,25.7),(14.7,25.9),(16.9,25.8),(19.1,25.7),(21.2,25.9),
]
PM_YEL = [
 (1.7,21.6),(3.1,23.0),(8.9,17.7),(15.4,20.1),(16.7,18.8),(17.7,19.0),(18.5,19.5),(19.7,21.3),(20.5,22.4),
 (21.3,22.9),(22.6,23.1),(23.9,23.7),(24.4,25.2),(26.9,26.5),(27.4,26.5),(28.3,28.1),(20.3,30.5),(18.4,28.8),
 (32.3,29.3),(32.8,30.6),(29.2,19.1),(28.2,21.3),(24.4,24.7),(21.1,18.6),(22.2,19.8),(23.6,20.1),(20.5,19.0),
 (17.7,16.2),(16.5,15.6),(14.9,14.6),(13.7,14.1),(12.6,13.1),(11.6,12.8),(13.4,13.3),(14.4,13.8),(15.4,15.6),
 (10.9,13.8),(9.8,12.5),(9.3,8.7),(15.4,10.2),(18.4,7.2),(20.5,10.7),(14.9,6.6),(15.7,8.3),(13.4,6.1),
 (5.2,5.2),(6.0,6.3),(9.8,4.0),(18.5,4.8),(25.6,9.4),(11.6,8.1),(12.9,8.7),(18.5,11.2),(16.5,13.8),
 (19.0,20.6),(17.5,17.5),
]
PM_ORA = [
 (3.5,9.9),(5.7,12.2),(8.1,7.1),(6.3,5.6),(9.8,18.2),(10.7,15.6),(14.4,12.3),(15.4,13.3),(17.0,11.2),
 (18.5,14.6),(19.5,16.7),(19.7,19.8),(21.8,20.3),(23.1,21.6),(23.9,23.7),(27.7,30.8),(25.7,17.5),(23.3,13.6),
 (18.9,22.1),(20.5,22.9),(17.0,16.9),(16.2,17.7),(13.4,18.0),(12.4,16.4),(11.4,13.3),(9.8,11.8),(14.7,11.2),
 (16.7,12.0),(17.7,8.7),
]
PM_R1 = [
 (4.6,6.8),(5.0,7.8),(5.8,16.4),(6.1,16.7),(6.7,13.1),(6.6,12.0),(7.0,11.0),(6.8,6.2),(8.1,5.5),(8.3,6.3),
 (7.7,7.9),(8.3,9.2),(8.8,10.2),(9.3,11.2),(9.8,12.3),(10.3,10.7),(10.9,9.7),(11.5,11.8),(12.0,13.3),(12.9,14.4),
 (13.4,15.6),(13.9,16.2),(14.4,15.4),(14.7,13.6),(15.4,14.4),(16.2,15.4),(16.7,16.9),(17.1,19.0),(17.5,19.5),
 (18.5,20.3),(19.5,20.8),(21.1,20.6),(22.2,25.0),(24.6,23.4),(25.6,26.8),(30.3,24.1),(31.6,19.8),
]
PM_R2 = [
 (27.2,19.8),(20.8,25.0),(8.6,16.2),(11.1,23.3),(13.1,21.5),(14.7,20.1),(12.4,19.0),(11.9,17.2),(10.9,15.6),
 (9.8,14.4),(8.8,13.3),(8.0,12.3),(7.2,11.8),(9.1,8.9),(9.8,7.6),(11.1,7.1),(12.4,8.1),(13.7,9.4),(14.4,11.2),
 (15.7,12.3),(12.6,3.5),(12.9,3.2),(9.3,5.0),(6.5,4.2),(3.5,7.1),(4.2,7.6),(5.8,12.3),(6.0,8.1),(10.6,13.1),
 (12.1,12.5),(13.4,12.5),(11.4,15.1),(12.4,14.9),(14.2,13.8),(15.2,12.8),(16.5,11.2),(18.5,13.1),(18.8,16.2),
 (18.5,18.2),(19.5,19.3),(20.3,20.1),(22.3,21.6),(23.3,22.6),(9.1,15.1),(10.1,16.2),(7.8,10.5),(6.8,9.7),
 (10.6,8.7),(11.6,9.2),
]
PM_DR = [(7.2,8.5),(8.1,8.1),(8.6,5.0),(8.7,3.9),(10.0,5.8),(13.3,7.7),(16.3,2.0),(10.3,8.1),(6.0,7.6)]
PM_BK = [(5.5,10.3),(7.0,8.7),(7.5,8.3),(9.6,5.8),(9.8,5.2),(9.3,5.6)]

# ---------------- panel "+/+" ----------------
PP_GRAY = [
 (9.6,19.8),(10.1,19.9),(10.6,19.7),(11.0,19.9),(11.5,19.8),(12.0,20.0),(12.4,19.7),(12.9,19.9),(13.3,19.8),(13.8,20.0),
 (14.2,19.7),(14.7,19.9),(15.1,19.8),(15.6,20.0),(16.0,19.7),(16.5,19.9),(16.9,19.8),(17.4,20.0),(17.8,19.7),(18.3,19.9),
 (18.7,19.8),(19.2,20.0),(19.6,19.7),(19.9,19.9),
 (9.9,19.3),(10.8,19.2),(11.7,19.4),(12.6,19.1),(13.5,19.4),(14.4,19.2),(15.3,19.4),(16.2,19.1),(17.1,19.3),(18.0,19.2),
 (18.9,19.4),(19.8,19.2),(8.5,19.4),(7.6,19.0),
 (19.8,18.6),(19.6,18.1),(19.9,17.6),(19.7,17.1),(19.9,16.6),(19.6,16.1),(19.8,15.6),(19.9,15.1),(19.6,14.6),(19.8,14.1),
 (19.9,13.6),(19.6,13.1),(19.8,12.6),(19.9,12.1),(19.6,11.6),(19.8,11.1),(19.9,10.6),(19.6,10.1),(19.8,9.6),(19.9,9.1),
 (19.6,8.6),(19.8,8.1),(19.9,7.6),(19.6,7.1),(19.8,6.6),(20.0,6.3),(19.5,5.9),(19.2,5.3),
 (19.1,18.4),(19.0,17.4),(19.2,16.4),(18.9,15.4),(19.1,14.4),(19.2,13.4),(18.9,12.4),(19.1,11.4),(19.2,10.4),(18.9,9.4),
 (19.1,8.4),(19.0,7.4),(18.8,6.5),(18.5,5.6),(18.2,4.2),(18.3,5.0),
 (10.5,18.5),(11.4,18.6),(12.3,18.4),(13.1,18.6),(14.0,18.5),(14.8,18.4),(15.7,18.6),(16.5,18.5),(17.4,18.4),(18.2,18.6),
 (11.0,17.8),(11.8,17.9),(12.7,17.7),(13.5,17.8),(14.4,17.9),(15.2,17.7),(16.1,17.8),(17.0,17.9),(17.8,17.7),(18.6,17.8),
 (10.4,17.0),(12.2,17.1),(13.1,16.9),(13.9,17.0),(14.8,17.1),(15.6,16.9),(16.5,17.0),(17.3,17.1),(18.1,16.9),(18.8,17.0),
 (11.5,16.2),(12.5,16.3),(13.4,16.1),(14.2,16.2),(15.1,16.3),(16.0,16.1),(16.8,16.2),(17.6,16.3),(18.4,16.1),
 (12.0,15.4),(12.9,15.5),(13.7,15.3),(14.6,15.4),(15.4,15.5),(16.3,15.3),(17.1,15.4),(17.9,15.5),(18.6,15.3),
 (11.3,14.6),(12.3,14.7),(13.2,14.5),(14.0,14.6),(14.9,14.7),(15.7,14.5),(16.6,14.6),(17.4,14.7),(18.2,14.5),
 (12.1,13.8),(12.8,13.9),(13.6,13.7),(14.5,13.8),(15.3,13.9),(16.2,13.7),(17.0,13.8),(17.8,13.9),(18.5,13.7),
 (11.6,13.0),(12.4,13.1),(13.3,12.9),(14.1,13.0),(15.0,13.1),(15.8,12.9),(16.7,13.0),(17.5,13.1),(18.3,12.9),
 (13.0,12.2),(13.8,12.3),(14.7,12.1),(15.5,12.2),(16.4,12.3),(17.2,12.1),(18.0,12.2),(18.7,12.3),
 (14.2,11.4),(15.1,11.5),(15.9,11.3),(16.8,11.4),(17.6,11.5),(18.4,11.3),
 (15.5,10.6),(16.4,10.7),(17.3,10.5),(18.1,10.6),(18.7,10.7),
 (16.0,9.8),(17.0,9.9),(17.8,9.7),(18.5,9.8),
 (16.8,9.0),(17.6,9.1),(18.3,8.9),
 (17.2,8.2),(18.0,8.3),(18.6,8.1),
 (16.5,7.4),(17.7,7.5),(18.4,7.3),
 (15.8,6.6),(17.2,6.7),(18.1,6.5),
 (16.9,5.8),(17.8,5.9),(17.9,4.8),
 (2.1,15.8),(2.9,18.0),(3.0,17.4),(4.2,19.2),(5.6,19.9),(6.0,19.1),(3.8,16.9),(5.2,16.9),(6.0,12.3),(7.3,8.1),
 (9.8,8.7),(10.3,5.5),(12.5,3.2),(14.4,4.7),(7.1,18.3),(8.0,17.7),(8.6,16.4),(9.3,15.5),(8.2,14.9),(9.7,14.2),
 (10.5,13.6),(9.0,12.9),(10.9,12.6),(11.2,11.2),(8.7,11.3),(10.0,10.4),(11.3,9.7),(12.4,10.6),(13.2,9.5),(12.0,8.7),
 (13.7,8.2),(12.8,6.9),(14.2,6.6),(15.0,5.6),(13.6,4.4),(11.2,7.2),(9.1,9.6),(7.6,13.5),(6.7,15.5),(6.4,17.0),
 (7.2,16.0),(10.2,18.2),(9.2,18.8),(4.7,18.3),(5.9,14.3),(8.5,10.4),(14.6,10.0),(15.5,8.4),(16.3,6.1),(15.7,7.3),
 (10.4,19.95),(11.2,19.95),(12.2,19.95),(13.0,19.95),(14.0,19.95),(14.9,19.95),(15.8,19.95),(16.7,19.95),(17.6,19.95),(18.5,19.95),(19.4,19.95),
 (10.0,19.55),(10.9,19.55),(11.9,19.55),(12.8,19.55),(13.7,19.55),(14.6,19.55),(15.5,19.55),(16.4,19.55),(17.3,19.55),(18.2,19.55),(19.1,19.55),(19.95,19.55),
 (11.1,18.95),(12.0,18.95),(12.9,18.95),(13.8,18.95),(14.7,18.95),(15.6,18.95),(16.5,18.95),(17.4,18.95),(18.3,18.95),(19.55,18.95),
 (11.9,18.2),(12.8,18.2),(13.7,18.2),(14.6,18.2),(15.5,18.2),(16.4,18.2),(17.3,18.2),(18.0,18.2),(18.8,18.2),
 (11.4,17.4),(12.5,17.4),(13.4,17.4),(14.3,17.4),(15.2,17.4),(16.1,17.4),(17.0,17.4),(17.8,17.4),(18.5,17.4),
 (12.0,16.6),(12.9,16.6),(13.8,16.6),(14.7,16.6),(15.6,16.6),(16.5,16.6),(17.4,16.6),(18.2,16.6),(18.9,16.6),
 (11.8,15.8),(12.7,15.8),(13.6,15.8),(14.5,15.8),(15.4,15.8),(16.3,15.8),(17.2,15.8),(18.1,15.8),(18.8,15.8),
 (12.5,15.0),(13.4,15.0),(14.3,15.0),(15.2,15.0),(16.1,15.0),(17.0,15.0),(17.8,15.0),(18.5,15.0),
 (12.8,14.2),(13.7,14.2),(14.6,14.2),(15.5,14.2),(16.4,14.2),(17.3,14.2),(18.1,14.2),(18.8,14.2),
 (12.1,13.4),(13.0,13.4),(13.9,13.4),(14.8,13.4),(15.7,13.4),(16.6,13.4),(17.4,13.4),(18.2,13.4),
 (13.5,12.6),(14.4,12.6),(15.3,12.6),(16.2,12.6),(17.0,12.6),(17.8,12.6),(18.5,12.6),
 (14.6,11.8),(15.5,11.8),(16.4,11.8),(17.2,11.8),(18.0,11.8),(18.6,11.8),
 (19.95,10.9),(19.95,9.9),(19.95,8.8),(19.95,7.9),(19.95,6.9),(19.35,9.8),(19.35,8.9),(19.35,7.9),(19.35,6.9),(19.35,6.1),
 (18.6,10.3),(18.6,9.4),(18.6,8.6),(18.6,7.8),(18.6,6.9),(18.1,6.0),(17.4,5.3),(18.0,4.6),
]
PP_YEL = [
 (7.0,19.0),(7.3,15.6),(5.6,11.9),(8.8,8.7),(16.0,5.3),(17.7,8.8),(18.8,5.8),(19.5,6.3),(18.8,12.3),(19.3,13.3),
 (19.3,15.4),(19.5,16.9),(19.0,18.5),(19.5,19.3),(18.3,19.5),(17.2,19.0),(17.7,18.3),(18.5,18.0),(14.2,19.3),(12.9,17.7),
 (12.4,19.0),(11.1,16.7),(16.5,14.4),(14.9,16.9),(19.3,10.7),(18.0,10.2),(20.0,8.7),(18.3,8.1),(14.6,15.6),(13.1,14.6),
 (17.3,19.6),(17.8,19.2),(18.3,18.8),(18.8,19.6),(19.2,18.3),(19.7,18.8),(19.4,17.6),(18.7,17.4),(18.1,17.8),(19.8,17.1),
 (19.1,16.6),(18.4,16.9),(19.6,16.0),(17.6,18.5),(16.9,18.0),(19.8,12.5),(19.5,11.5),(19.9,13.8),(19.1,12.9),(13.0,19.6),
 (13.6,19.4),(12.3,18.6),(15.3,19.6),(16.2,18.8),(17.0,17.1),(18.0,15.6),(19.3,14.6),(19.7,14.2),(18.6,11.7),(19.6,10.9),
]
PP_ORA = [
 (14.3,2.9),(7.3,11.8),(9.0,16.9),(10.6,16.9),(13.1,16.2),(14.2,18.5),(16.0,19.0),(17.5,17.5),(18.3,16.4),(18.8,14.6),
 (19.3,17.7),(18.5,19.0),(16.7,15.6),(17.7,13.8),(17.2,11.2),(14.4,10.2),(17.6,6.8),(9.2,17.7),(6.8,19.5),(15.4,16.9),
 (14.9,15.6),(17.0,18.6),(16.4,17.7),(18.9,16.0),(17.9,16.7),(18.3,14.9),(19.0,13.6),(16.1,18.4),(15.5,17.8),(12.3,17.9),
 (11.7,18.9),(10.5,18.6),(17.3,12.6),(18.9,10.8),(18.4,7.1),(16.6,14.0),
]
PP_R1 = [
 (3.7,14.5),(4.9,12.8),(6.1,9.7),(6.1,14.5),(6.8,16.3),(7.0,17.6),(7.7,11.8),(8.4,10.2),(9.1,16.4),(9.8,17.5),
 (10.2,16.2),(11.1,15.6),(11.4,17.6),(12.1,16.9),(12.4,14.5),(12.9,15.4),(13.1,13.8),(13.4,17.5),(13.9,16.2),(14.2,14.4),
 (14.4,12.8),(14.9,12.5),(15.2,14.4),(15.6,13.3),(16.0,15.6),(16.5,17.5),(17.0,16.4),(16.7,15.1),(17.2,13.8),
 (13.8,16.6),(14.6,17.2),(15.3,16.2),(15.9,17.3),(16.4,16.6),(15.8,14.9),(16.9,14.6),(17.6,16.0),(14.0,13.2),(13.3,15.0),
]
PP_R2 = [
 (16.0,12.3),(15.2,11.2),(14.1,10.5),(13.1,9.6),(13.4,8.7),(12.6,7.6),(14.7,8.7),(14.9,6.2),(14.9,7.2),(13.4,5.4),
 (15.3,3.1),(16.5,6.1),(17.7,7.4),(18.0,11.2),(18.3,13.3),(15.7,16.9),(14.4,15.1),(12.6,12.0),(13.7,11.8),(14.4,11.8),
 (15.4,12.8),(16.2,14.4),(16.7,12.8),(11.4,14.5),(10.6,14.1),(9.5,13.3),(12.4,9.9),(14.1,8.1),(17.1,11.5),(17.5,15.4),
 (17.2,18.2),(14.9,18.0),(12.8,16.5),(12.0,14.0),(11.2,13.6),(15.5,18.6),(17.9,17.0),(16.2,13.0),(15.0,13.8),(13.6,12.3),
 (14.8,11.0),(17.8,12.4),(12.2,15.6),(11.7,16.4),
]
PP_DR = [
 (5.8,11.7),(6.6,10.3),(9.2,11.1),(9.8,12.7),(10.6,11.8),(10.6,13.2),(11.5,11.2),(11.6,10.5),(11.5,8.0),(11.6,5.2),
 (12.1,11.5),(12.6,13.3),(10.1,12.5),(11.3,12.3),
]
PP_BK = [(7.9,9.2),(5.8,10.5)]

# ---------------- figure ----------------
W, H = 743, 708
FONT = "Liberation Sans, Arial, Helvetica, sans-serif"

# panel boxes in pixels: (left, right, top, bottom)
BOXES = [(69, 351, 4, 281), (457.3, 739, 4, 281), (69, 351.5, 366.5, 645.7), (457.3, 739, 367.5, 645.7)]
LEGEND_BOX = (264, 351, 4, 138)
PANEL_DATA = [
    [MM_GRAY, MM_YEL, MM_ORA, MM_R1, MM_R2, MM_DR, MM_BK],
    [MP_GRAY, MP_YEL, MP_ORA, MP_R1, MP_R2, MP_DR, MP_BK],
    [PM_GRAY, PM_YEL, PM_ORA, PM_R1, PM_R2, PM_DR, PM_BK],
    [PP_GRAY, PP_YEL, PP_ORA, PP_R1, PP_R2, PP_DR, PP_BK],
]
SIZES = [3.7, 4.3, 4.3, 4.3, 4.3, 4.3, 4.3]

fig = go.Figure()
layout = dict(width=W, height=H, margin=dict(l=0, r=0, t=0, b=0),
              plot_bgcolor="white", paper_bgcolor="white",
              font=dict(family=FONT, color="black"), showlegend=False)

annotations = []
for i, (box, series) in enumerate(zip(BOXES, PANEL_DATA)):
    n = "" if i == 0 else str(i + 1)
    xa, ya = "x" + n, "y" + n
    for k, pts in enumerate(series):
        fig.add_trace(go.Scatter(
            x=[p[0] for p in pts], y=[p[1] for p in pts], mode="markers", name=CATS[k],
            xaxis=xa, yaxis=ya, showlegend=False, hoverinfo="skip",
            marker=dict(color=COLORS[k], size=SIZES[k], line=dict(width=0))))
    l, r, t, b = box
    common = dict(range=[-1.6, 41.6], tickvals=TICKS, ticks="outside", ticklen=7, tickwidth=1,
                  tickcolor="black", showline=True, linecolor="black", linewidth=1, mirror=True,
                  showgrid=False, zeroline=False, tickfont=dict(size=14, family=FONT, color="black"),
                  fixedrange=True)
    layout["xaxis" + n] = dict(common, domain=[l / W, r / W], anchor=ya, ticklabelstandoff=4)
    layout["yaxis" + n] = dict(common, domain=[1 - b / H, 1 - t / H], anchor=xa, tickangle=-90,
                               ticklabelstandoff=4)
    xc = l + 10 + (r - l - 20) * 0.5
    annotations.append(dict(text="J1", xref="paper", yref="paper", x=xc / W, y=1 - (b + 47.5) / H,
                            showarrow=False, font=dict(size=26, family=FONT), xanchor="center", yanchor="middle"))
    jx = 15.5 if i in (0, 2) else 409
    annotations.append(dict(text="J2", xref="paper", yref="paper", x=jx / W, y=1 - (t + 138.5) / H,
                            showarrow=False, font=dict(size=26, family=FONT), textangle=-90,
                            xanchor="center", yanchor="middle"))
    annotations.append(dict(text=PANEL_LABELS[i], xref="paper", yref="paper", x=(l + 5) / W,
                            y=1 - (t + 19) / H, showarrow=False, font=dict(size=24, family=FONT),
                            xanchor="left", yanchor="middle"))

# key box (R-style legend) on its own small axes: one row per class, highest class first
ll, lr, lt, lb = LEGEND_BOX
order = list(range(6, -1, -1))
rows = list(range(len(order)))
fig.add_trace(go.Scatter(x=[0] * len(rows), y=rows, mode="markers", xaxis="x5", yaxis="y5",
                         hoverinfo="skip", showlegend=False,
                         marker=dict(color=[COLORS[k] for k in order], size=8, line=dict(width=0))))
fig.add_trace(go.Scatter(x=[0.95] * len(rows), y=rows, mode="text", xaxis="x5", yaxis="y5",
                         text=[CATS[k] for k in order], textposition="middle right",
                         textfont=dict(size=14, family=FONT, color="black"),
                         hoverinfo="skip", showlegend=False))
key_axis = dict(showline=True, linecolor="black", linewidth=1, mirror=True, ticks="",
                showticklabels=False, showgrid=False, zeroline=False, fixedrange=True)
layout["xaxis5"] = dict(key_axis, domain=[ll / W, lr / W], range=[-1.0, 5.7], anchor="y5")
layout["yaxis5"] = dict(key_axis, domain=[1 - lb / H, 1 - lt / H], range=[7.0, -1.0], anchor="x5")

layout["annotations"] = annotations
fig.update_layout(**layout)
fig.write_html("out.html", config={"displayModeBar": False},
               post_script="document.body.style.margin='0px';document.body.style.overflow='hidden';")
